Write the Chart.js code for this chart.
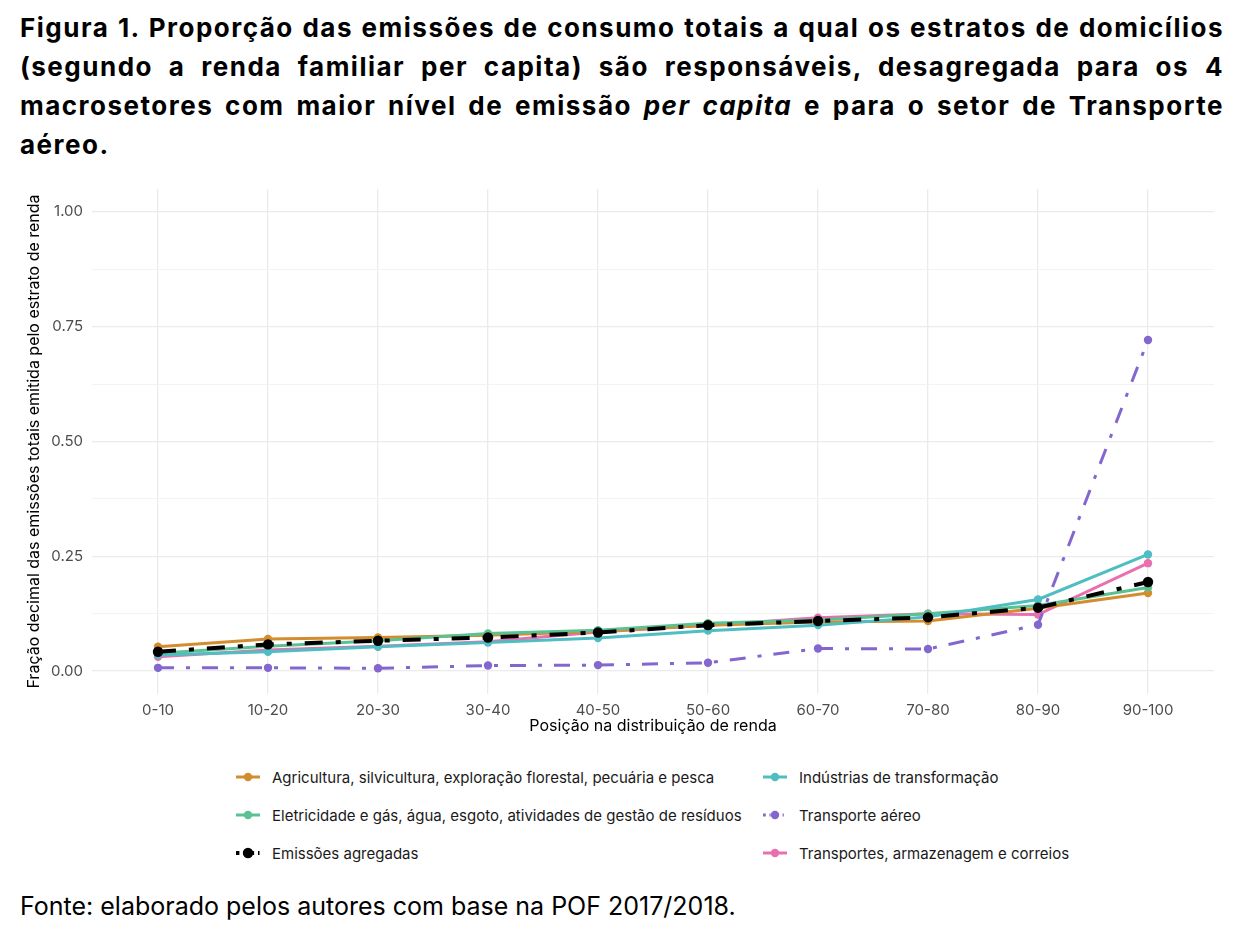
<!DOCTYPE html>
<html>
<head>
<meta charset="utf-8">
<script src="https://cdn.jsdelivr.net/npm/chart.js@4/dist/chart.umd.min.js"></script>
<style>
  body { margin: 0; background: #fff; font-family: Inter, "Noto Sans", sans-serif; }
  #wrap { position: relative; width: 1244px; height: 946px; overflow: hidden; }
  #title { position: absolute; left: 20px; top: 8px; width: 1204px; font-size: 26px; font-weight: 700;
           line-height: 39px; color: #000; letter-spacing: 1.5px; }
  #title span { display: block; white-space: nowrap; text-align: justify; text-align-last: justify; }
  #title span.last { text-align-last: left; }
  #chartBox { position: absolute; left: 0; top: 170px; width: 1244px; height: 569px; }
  #legend { position: absolute; left: 0; top: 0; width: 1244px; }
  .item { position: absolute; display: flex; align-items: center; font-size: 15px; color: #1a1a1a; height: 20px; white-space: nowrap; }
  .item svg { margin-right: 12px; }
  #source { position: absolute; left: 20px; top: 891px; font-size: 25px; color: #000; }
</style>
</head>
<body>
<div id="wrap">
  <div id="title">
    <span>Figura 1. Proporção das emissões de consumo totais a qual os estratos de domicílios</span>
    <span>(segundo a renda familiar per capita) são responsáveis, desagregada para os 4</span>
    <span>macrosetores com maior nível de emissão <i>per capita</i> e para o setor de Transporte</span>
    <span class="last">aéreo.</span>
  </div>
  <div id="chartBox"><canvas id="chart"></canvas></div>
  <div id="legend"></div>
  <div id="source">Fonte: elaborado pelos autores com base na POF 2017/2018.</div>
</div>
<script>
const categories = ['0-10', '10-20', '20-30', '30-40', '40-50', '50-60', '60-70', '70-80', '80-90', '90-100'];
const agricultura = [0.053, 0.070, 0.073, 0.078, 0.086, 0.100, 0.107, 0.109, 0.137, 0.170];
const eletricidade = [0.039, 0.054, 0.066, 0.082, 0.089, 0.104, 0.111, 0.125, 0.143, 0.182];
const agregadas = [0.042, 0.058, 0.066, 0.073, 0.084, 0.100, 0.109, 0.117, 0.138, 0.194];
const industrias = [0.035, 0.042, 0.053, 0.062, 0.072, 0.088, 0.100, 0.118, 0.156, 0.254];
const aereo = [0.007, 0.007, 0.006, 0.012, 0.013, 0.018, 0.049, 0.048, 0.101, 0.721];
const transportes = [0.031, 0.046, 0.054, 0.064, 0.085, 0.100, 0.116, 0.125, 0.123, 0.235];
const yTicks = [0, 0.125, 0.25, 0.375, 0.5, 0.625, 0.75, 0.875, 1];

// series in legend order (column-major, as in the figure)
const series = [
  { label: 'Agricultura, silvicultura, exploração florestal, pecuária e pesca', data: agricultura, color: '#d38d2f', dash: [], width: 3, r: 4.2 },
  { label: 'Eletricidade e gás, água, esgoto, atividades de gestão de resíduos', data: eletricidade, color: '#5ac193', dash: [], width: 3, r: 4.2 },
  { label: 'Emissões agregadas', data: agregadas, color: '#000000', dash: [18, 13, 5, 13], width: 4, r: 5.2 },
  { label: 'Indústrias de transformação', data: industrias, color: '#4ebec3', dash: [], width: 3, r: 4.2 },
  { label: 'Transporte aéreo', data: aereo, color: '#8466cf', dash: [16, 12, 4, 12], width: 3, r: 4.2 },
  { label: 'Transportes, armazenagem e correios', data: transportes, color: '#e96fb0', dash: [], width: 3, r: 4.2 },
];
const drawOrder = [5, 4, 1, 3, 2, 6]; // lower = drawn on top

const datasets = series.map((s, i) => ({
  label: s.label,
  data: s.data.map((v, j) => ({ x: j + 1, y: v })),
  borderColor: s.color,
  backgroundColor: s.color,
  borderWidth: s.width,
  borderDash: s.dash,
  pointRadius: s.r,
  pointBorderWidth: 0,
  pointHoverRadius: s.r,
  tension: 0,
  order: drawOrder[i],
}));

new Chart(document.getElementById('chart').getContext('2d'), {
  type: 'line',
  data: { datasets },
  options: {
    responsive: true,
    maintainAspectRatio: false,
    animation: false,
    layout: { padding: { left: 22, right: 30, top: 19, bottom: 0 } },
    plugins: { legend: { display: false }, tooltip: { enabled: false } },
    scales: {
      x: {
        type: 'linear',
        min: 0.4,
        max: 10.6,
        afterBuildTicks: (scale) => { scale.ticks = categories.map((_, i) => ({ value: i + 1 })); },
        afterFit: (scale) => { scale.height = 45; },
        border: { display: false },
        grid: { color: '#ebebeb', lineWidth: 1.3, drawTicks: false },
        ticks: {
          padding: 7,
          color: '#4d4d4d',
          font: { family: 'Inter', size: 15 },
          callback: (v) => categories[v - 1],
          maxRotation: 0,
        },
        title: { display: true, text: 'Posição na distribuição de renda', color: '#000', font: { family: 'Inter', size: 16 }, padding: 3 },
      },
      y: {
        min: -0.05,
        max: 1.05,
        afterBuildTicks: (scale) => { scale.ticks = yTicks.map((v) => ({ value: v })); },
        afterFit: (scale) => { scale.width = 70; },
        border: { display: false },
        grid: {
          drawTicks: false,
          color: (ctx) => (ctx.index % 2 === 0 ? '#ebebeb' : '#f2f2f2'),
          lineWidth: (ctx) => (ctx.index % 2 === 0 ? 1.3 : 0.9),
        },
        ticks: {
          padding: 9,
          color: '#4d4d4d',
          font: { family: 'Inter', size: 15 },
          callback: (v, i) => (i % 2 === 0 ? v.toFixed(2) : ''),
        },
        title: { display: true, text: 'Fração decimal das emissões totais emitida pelo estrato de renda', color: '#000', font: { family: 'Inter', size: 16 }, padding: 3 },
      },
    },
  },
});

// legend, two columns filled top to bottom
const legend = document.getElementById('legend');
const rowY = [777, 815, 853];
const colX = [236, 763];
series.forEach((s, i) => {
  const col = Math.floor(i / 3);
  const row = i % 3;
  const el = document.createElement('div');
  el.className = 'item';
  el.style.left = colX[col] + 'px';
  el.style.top = (rowY[row] - 10) + 'px';
  const dash = s.dash.length ? `stroke-dasharray="${s.dash.map((d) => d * 0.3).join(' ')}" stroke-dashoffset="2"` : '';
  el.innerHTML = `<svg width="24" height="20"><line x1="0" y1="10" x2="24" y2="10" stroke="${s.color}" stroke-width="${s.width}" ${dash}/><circle cx="12" cy="10" r="${s.r}" fill="${s.color}"/></svg><span>${s.label}</span>`;
  legend.appendChild(el);
});
</script>
</body>
</html>
